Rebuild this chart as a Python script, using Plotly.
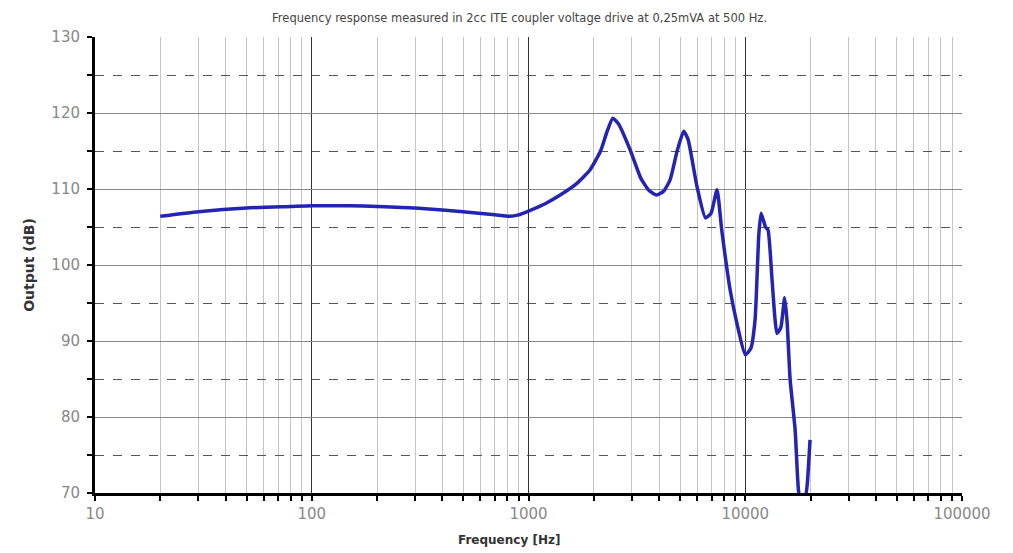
import plotly.graph_objects as go

freq_hz = [20, 30, 50, 80, 100, 150, 200, 300, 500, 700, 820, 900, 1000, 1200, 1400, 1650,
           1920, 2150, 2300, 2450, 2600, 2940, 3300, 3600, 3900, 4200, 4500, 4850, 5200,
           5450, 5990, 6550, 6950, 7410, 7790, 8520, 9140, 10000, 10600, 11100, 11550, 11830,
           12400, 12740, 13300, 14010, 14600, 15200, 15600, 16100, 16990, 17600, 18200,
           18700, 19300, 19900]
output_db = [106.4, 107.0, 107.5, 107.7, 107.8, 107.8, 107.7, 107.5, 107.0, 106.6, 106.4, 106.6,
             107.1, 108.1, 109.2, 110.6, 112.5, 115.0, 117.5, 119.3, 118.6, 115.2, 111.4, 109.8,
             109.2, 109.7, 111.2, 115.0, 117.6, 116.5, 110.3, 106.2, 106.8, 109.9, 104.6,
             96.7, 92.4, 88.2, 89.0, 92.8, 104.0, 106.8, 105.0, 104.6, 98.0, 91.0, 91.8,
             95.7, 92.5, 85.0, 78.3, 70.4, 68.5, 68.5, 71.0, 77.0]

title_text = "Frequency response measured in 2cc ITE coupler voltage drive at 0,25mVA at 500 Hz."
x_title = "<b>Frequency [Hz]</b>"
y_title = "<b>Output (dB)</b>"
x_tick_vals = [10, 100, 1000, 10000, 100000]
x_tick_text = ["10", "100", "1000", "10000", "100000"]
y_tick_vals = [70, 80, 90, 100, 110, 120, 130]

fig = go.Figure()
fig.add_trace(go.Scatter(
    x=freq_hz, y=output_db, mode="lines",
    line=dict(color="#2424b4", width=3.5, shape="spline", smoothing=0.5),
    showlegend=False,
))

fig.update_layout(
    width=1013, height=553,
    margin=dict(l=87, r=59, t=29, b=68),
    paper_bgcolor="white", plot_bgcolor="white",
    title=dict(text=title_text, x=0.505, xanchor="center", y=0.982, yanchor="middle",
               font=dict(family="DejaVu Sans", size=11.5, color="#444")),
    font=dict(family="DejaVu Sans", color="#888"),
    annotations=[
        dict(text=x_title, xref="paper", yref="paper", x=0.477, y=-0.103,
             xanchor="center", yanchor="middle", showarrow=False,
             font=dict(family="DejaVu Sans", size=12, color="#333")),
    ],
)
fig.update_xaxes(
    type="log", range=[1, 5],
    tickvals=x_tick_vals, ticktext=x_tick_text,
    tickfont=dict(family="DejaVu Sans", size=15, color="#888"),
    ticks="outside", ticklen=5, tickwidth=2, tickcolor="black",
    showline=True, linecolor="black", linewidth=3, mirror=False,
    showgrid=True, gridcolor="#333", gridwidth=1,
    minor=dict(dtick="D1", showgrid=True, gridcolor="#c4c4c4", gridwidth=1,
               ticks="outside", ticklen=5, tickwidth=1.5, tickcolor="black"),
    zeroline=False,
)
fig.update_yaxes(
    range=[70, 130], tickvals=y_tick_vals,
    tickfont=dict(family="DejaVu Sans", size=15, color="#888"),
    ticks="outside", ticklen=5, tickwidth=2, tickcolor="black",
    ticklabelstandoff=4,
    showline=True, linecolor="black", linewidth=3,
    showgrid=True, gridcolor="#888", gridwidth=1,
    minor=dict(dtick=5, showgrid=True, gridcolor="#555", griddash="dash", gridwidth=1,
               ticks="outside", ticklen=5, tickwidth=2, tickcolor="black"),
    title=dict(text=y_title, font=dict(family="DejaVu Sans", size=14, color="#333"),
               standoff=14),
    zeroline=False,
)

fig.write_html("out.html")
